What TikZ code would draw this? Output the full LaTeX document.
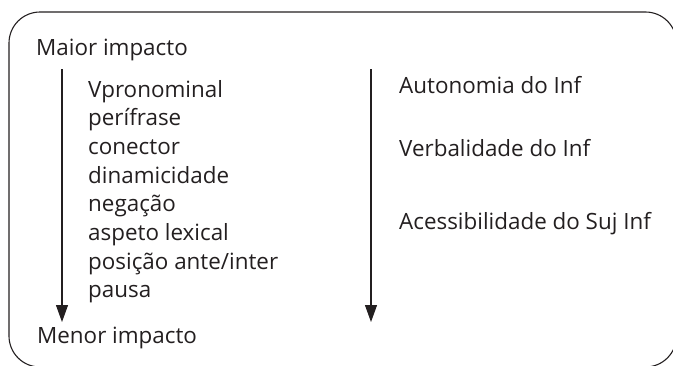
\documentclass[tikz,border=0pt]{standalone}
\usepackage{fontspec}
\setmainfont{Open Sans}
\usetikzlibrary{positioning}
\usetikzlibrary{arrows.meta}
\definecolor{ink}{RGB}{35,31,32}
\tikzset{
	txt/.style={inner sep=0pt, anchor=base west, text=ink, font=\fontsize{22.4}{26}\selectfont},
	scalearrow/.style={draw=ink, line width=1.1pt, -{Triangle[length=17pt,width=12pt]}},
}

\begin{document}
\begin{tikzpicture}[x=1pt,y=-1pt]
	\useasboundingbox (0,0) rectangle (673,365);
	\clip (0,0) rectangle (673,365);
	\draw [draw=ink, line width=1.1pt, rounded corners=31pt] (9,12) rectangle (676.5,367);
	
	% Ends of the scale
	\node [txt] at (36,55) (maior) {Maior impacto};
	\node [txt] at (37,343) (menor) {Menor impacto};
	
	% Left column
	\node [txt] at (88,97) (vpron) {Vpronominal};
	\node [txt, below=28.7pt of vpron.base west, anchor=base west] (perif) {perífrase};
	\node [txt, below=28.7pt of perif.base west, anchor=base west] (conec) {conector};
	\node [txt, below=28.7pt of conec.base west, anchor=base west] (dinam) {dinamicidade};
	\node [txt, below=28.7pt of dinam.base west, anchor=base west] (negac) {negação};
	\node [txt, below=28.7pt of negac.base west, anchor=base west] (aspet) {aspeto lexical};
	\node [txt, below=28.7pt of aspet.base west, anchor=base west] (posic) {posição ante/inter};
	\node [txt, below=28.7pt of posic.base west, anchor=base west] (pausa) {pausa};
	
	% Right column
	\node [txt] at (399,93) (auton) {Autonomia do Inf};
	\node [txt] at (399,156) (verbal) {Verbalidade do Inf};
	\node [txt] at (399,229) (acess) {Acessibilidade do Suj Inf};
	
	% Arrows
	\coordinate (ltop) at (62,69);
	\coordinate (lbot) at (62,322);
	\coordinate (rtop) at (371,69);
	\coordinate (rbot) at (371,322);
	\draw [scalearrow] (ltop) -- (lbot);
	\draw [scalearrow] (rtop) -- (rbot);
\end{tikzpicture}
\end{document}
